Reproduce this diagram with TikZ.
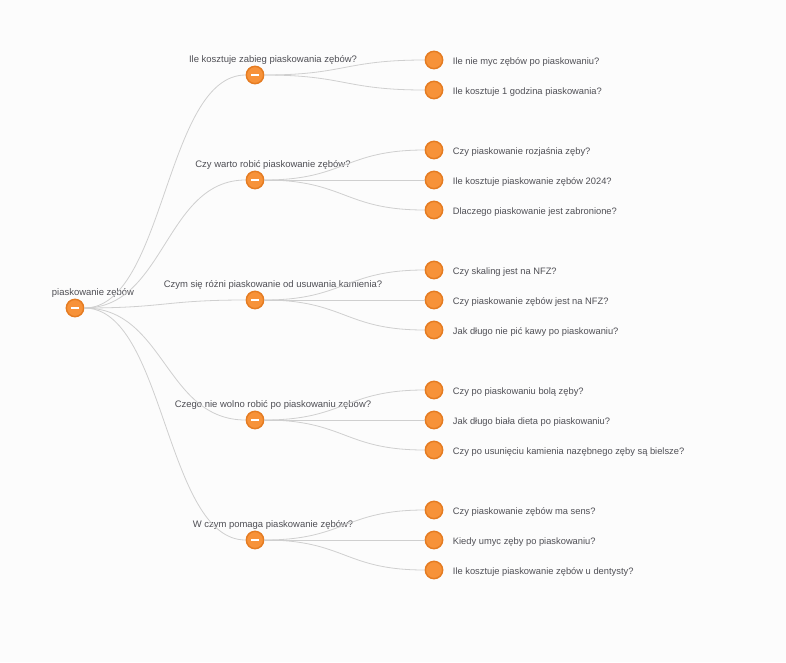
\documentclass[tikz,border=0pt]{standalone}
\usepackage{fontspec}
\setmainfont{Liberation Sans}
\usepackage{tikz}
\definecolor{dot}{HTML}{F79239}
\definecolor{dotline}{HTML}{E57C22}
\definecolor{wire}{HTML}{CFCFCF}
\definecolor{ink}{HTML}{4F4F55}
\definecolor{paper}{HTML}{FCFCFC}

\begin{document}
\begin{tikzpicture}[x=0.75pt, y=-0.75pt,
        main/.style = {draw=dotline, fill=dot, circle, line width=1.1pt, minimum size=13pt, inner sep=0pt},
        open/.style = {main, path picture={\fill[white] ([xshift=-3pt,yshift=-0.75pt]path picture bounding box.center) rectangle ([xshift=3pt,yshift=0.75pt]path picture bounding box.center);}},
        topic/.style = {above=8pt, xshift=13.5pt, font=\fontsize{7.1}{8}\selectfont, text=ink, inner sep=0pt},
        leaf/.style = {right=14pt, yshift=-1.2pt, font=\fontsize{7}{8}\selectfont, text=ink, inner sep=0pt},
        link/.style = {draw=wire, line width=0.6pt, to path={.. controls +(90,0) and +(-90,0) .. (\tikztotarget)}}]
            \fill[paper] (0,0) rectangle (786,662);
            \useasboundingbox (0,0) rectangle (786,662);

            \node[open] (R) at (75,308) {};
            \node[topic] at (R) {piaskowanie zębów};

            \node[open] (A) at (255,75) {};
            \node[open] (B) at (255,180) {};
            \node[open] (C) at (255,300) {};
            \node[open] (D) at (255,420) {};
            \node[open] (E) at (255,540) {};
            \node[topic] at (A) {Ile kosztuje zabieg piaskowania zębów?};
            \node[topic] at (B) {Czy warto robić piaskowanie zębów?};
            \node[topic] at (C) {Czym się różni piaskowanie od usuwania kamienia?};
            \node[topic] at (D) {Czego nie wolno robić po piaskowaniu zębów?};
            \node[topic] at (E) {W czym pomaga piaskowanie zębów?};

            \node[main] (A1) at (434,60) {};
            \node[main] (A2) at (434,90) {};
            \node[main] (B1) at (434,150) {};
            \node[main] (B2) at (434,180) {};
            \node[main] (B3) at (434,210) {};
            \node[main] (C1) at (434,270) {};
            \node[main] (C2) at (434,300) {};
            \node[main] (C3) at (434,330) {};
            \node[main] (D1) at (434,390) {};
            \node[main] (D2) at (434,420) {};
            \node[main] (D3) at (434,450) {};
            \node[main] (E1) at (434,510) {};
            \node[main] (E2) at (434,540) {};
            \node[main] (E3) at (434,570) {};

            \node[leaf] at (A1) {Ile nie myc zębów po piaskowaniu?};
            \node[leaf] at (A2) {Ile kosztuje 1 godzina piaskowania?};
            \node[leaf] at (B1) {Czy piaskowanie rozjaśnia zęby?};
            \node[leaf] at (B2) {Ile kosztuje piaskowanie zębów 2024?};
            \node[leaf] at (B3) {Dlaczego piaskowanie jest zabronione?};
            \node[leaf] at (C1) {Czy skaling jest na NFZ?};
            \node[leaf] at (C2) {Czy piaskowanie zębów jest na NFZ?};
            \node[leaf] at (C3) {Jak długo nie pić kawy po piaskowaniu?};
            \node[leaf] at (D1) {Czy po piaskowaniu bolą zęby?};
            \node[leaf] at (D2) {Jak długo biała dieta po piaskowaniu?};
            \node[leaf] at (D3) {Czy po usunięciu kamienia nazębnego zęby są bielsze?};
            \node[leaf] at (E1) {Czy piaskowanie zębów ma sens?};
            \node[leaf] at (E2) {Kiedy umyc zęby po piaskowaniu?};
            \node[leaf] at (E3) {Ile kosztuje piaskowanie zębów u dentysty?};

            \foreach \t in {A,B,C,D,E}
                \path[link] (R) edge (\t);
            \foreach \t in {A1,A2}
                \path[link] (A) edge (\t);
            \foreach \t in {B1,B2,B3}
                \path[link] (B) edge (\t);
            \foreach \t in {C1,C2,C3}
                \path[link] (C) edge (\t);
            \foreach \t in {D1,D2,D3}
                \path[link] (D) edge (\t);
            \foreach \t in {E1,E2,E3}
                \path[link] (E) edge (\t);
        \end{tikzpicture}
\end{document}
